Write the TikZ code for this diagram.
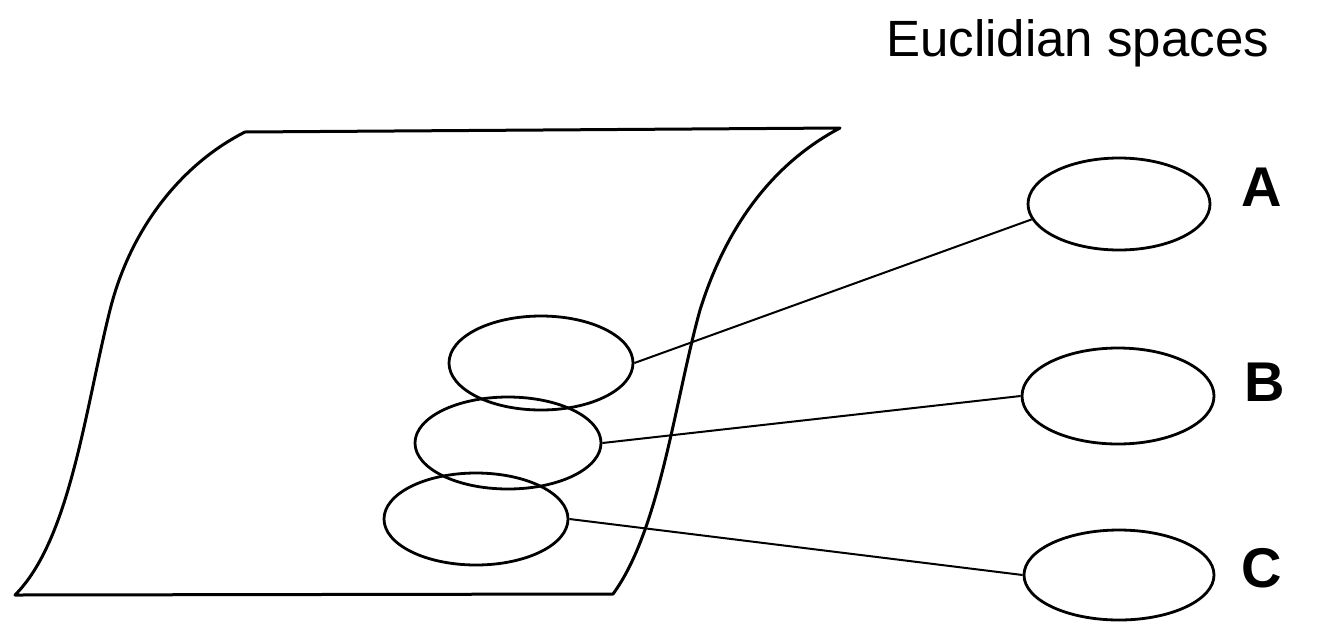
\documentclass[tikz,border=0pt]{standalone}
\usepackage{fontspec}
\setmainfont{Liberation Sans}
\usetikzlibrary{shapes.geometric}
\begin{document}
\begin{tikzpicture}[x=0.5pt,y=-0.5pt,
  shp/.style={line width=1.5pt, line join=round},
  oval/.style={draw, ellipse, line width=1.4pt, inner sep=0pt},
  conn/.style={line width=1pt},
  lbl/.style={font=\fontsize{28}{30}\selectfont\bfseries, inner sep=0pt, anchor=base}]
\useasboundingbox (0,0) rectangle (1320,627);
% manifold sheet
\draw[shp] (245,132) -- (840,128)
  .. controls (770,165) and (725,230) .. (700,310)
  .. controls (675,400) and (660,530) .. (613,594)
  -- (15,595)
  .. controls (70,540) and (85,410) .. (110,310)
  .. controls (130,230) and (180,165) .. (245,132) -- cycle;
% ellipses on the manifold
\node[oval, minimum width=92pt, minimum height=47pt] (e1) at (541,363) {};
\node[oval, minimum width=93pt, minimum height=46pt] (e2) at (508,443) {};
\node[oval, minimum width=92pt, minimum height=46pt] (e3) at (476,519) {};
% Euclidean spaces
\node[oval, minimum width=91pt, minimum height=46pt] (ea) at (1119,204) {};
\node[oval, minimum width=96pt, minimum height=48pt] (eb) at (1118,396) {};
\node[oval, minimum width=95pt, minimum height=45pt] (ec) at (1119,575) {};
% connectors
\draw[conn] (e1.east) -- (ea.190);
\draw[conn] (e2.east) -- (eb.west);
\draw[conn] (e3.east) -- (ec.west);
% labels
\node[lbl] (la) at (1262,206) {A};
\node[lbl] (lb) at (1265,401) {B};
\node[lbl] (lc) at (1262,587) {C};
\node[font=\fontsize{25.5}{28}\selectfont, inner sep=0pt, anchor=base west] (title) at (886,56) {Euclidian spaces};
\end{tikzpicture}
\end{document}
